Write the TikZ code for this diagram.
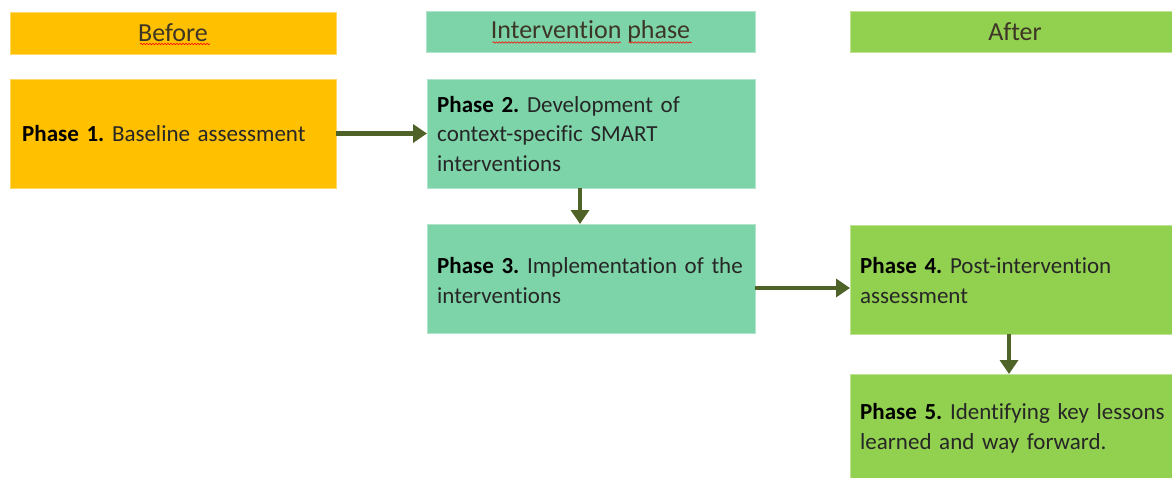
\documentclass[tikz,border=0pt]{standalone}
\usepackage{fontspec}
\setmainfont{Carlito}[Ligatures={NoCommon}]
\frenchspacing
\usetikzlibrary{arrows.meta,decorations.pathmorphing}
\definecolor{gold}{HTML}{FFC000}
\definecolor{teal}{HTML}{7DD4A8}
\definecolor{lime}{HTML}{92D050}
\definecolor{arrowc}{HTML}{4F6228}
\definecolor{bodytxt}{HTML}{262626}
\definecolor{headtxt}{HTML}{3D3526}
\tikzset{
  box/.style={rectangle, minimum width=326pt, minimum height=109pt, inner sep=0pt, outer sep=0pt},
  head/.style={rectangle, minimum width=326pt, minimum height=42pt, inner sep=0pt, outer sep=0pt, font=\fontsize{26}{30}\selectfont, text=headtxt},
  txt/.style={text width=320pt, align=left, inner sep=0pt, font=\fontsize{23}{29.5}\selectfont\frenchspacing, text=bodytxt},
  conn/.style={draw=arrowc, line width=4.8pt, -{Triangle[width=18pt,length=14pt]}},
  squig/.style={draw=red, line width=0.6pt, decorate, decoration={snake, segment length=3pt, amplitude=0.7pt}}
}
\newcommand{\ph}[1]{\textbf{\color{black}#1}}
\begin{document}
\begin{tikzpicture}[x=1pt,y=-1pt]
\useasboundingbox (0,0) rectangle (1172,477);
\clip (0,0) rectangle (1172,477);
% headers
\node[head, fill=gold, draw=gold!60!white, line width=0.6pt] (hb) at (173,33) {Before};
\node[head, fill=teal, draw=teal!60!white, line width=0.6pt, minimum width=329pt, minimum height=41pt] (hi) at (590.5,31.5) {Intervention phase};
\node[head, fill=lime, draw=lime!60!white, line width=0.6pt, minimum width=330pt, minimum height=41pt] (ha) at (1015,31.5) {After};
\draw[squig] ([xshift=-33pt,yshift=-11pt]hb.center) -- ([xshift=37pt,yshift=-11pt]hb.center);
\draw[squig] ([xshift=-98pt,yshift=-11pt]hi.center) -- ([xshift=30pt,yshift=-11pt]hi.center);
\draw[squig] ([xshift=38pt,yshift=-11pt]hi.center) -- ([xshift=101pt,yshift=-11pt]hi.center);
% boxes
\node[box, fill=gold, draw=gold!60!white, line width=0.6pt] (p1) at (173,133.5) {};
\node[box, fill=teal, draw=teal!60!white, line width=0.6pt, minimum width=328pt] (p2) at (591,133.5) {};
\node[box, fill=teal, draw=teal!60!white, line width=0.6pt, minimum width=328pt] (p3) at (591,278.5) {};
\node[box, fill=lime, draw=lime!60!white, line width=0.6pt, minimum width=330pt] (p4) at (1015,279.5) {};
\node[box, fill=lime, draw=lime!60!white, line width=0.6pt, minimum width=330pt] (p5) at (1015,428.5) {};
% texts
\node[txt, anchor=west] (t1) at (22,134) {\ph{Phase 1.} Baseline assessment};
\node[txt, anchor=west] (t2) at (437,134) {\ph{Phase 2.} Development of\\context-specific SMART\\interventions};
\node[txt, anchor=west] (t3) at (437,280.5) {\ph{Phase 3.} Implementation of the\\interventions};
\node[txt, anchor=west] (t4) at (860,280.5) {\ph{Phase 4.} Post-intervention\\assessment};
\node[txt, anchor=west] (t5) at (860,428.5) {\ph{Phase 5.} Identifying key lessons\\learned and way forward.};
% connectors
\draw[conn] (p1.east) -- (p2.west);
\draw[conn] ([xshift=-11pt]p2.south) -- ([xshift=-11pt]p3.north);
\draw[conn] ([yshift=-9.5pt]p3.east) -- ([yshift=-9.5pt]p3.east -| p4.west);
\draw[conn] ([xshift=-6pt]p4.south) -- ([xshift=-6pt]p5.north);
\end{tikzpicture}
\end{document}
